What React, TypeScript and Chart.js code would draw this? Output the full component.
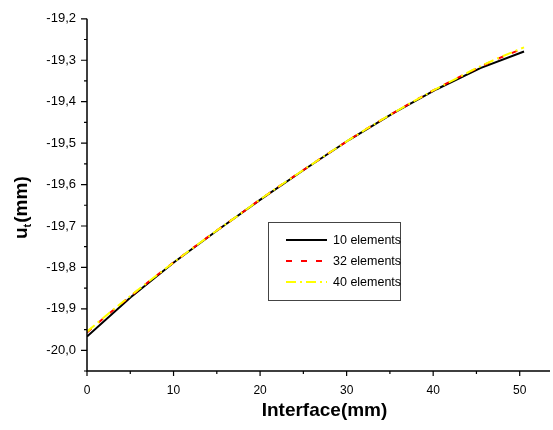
import React, { useEffect, useRef } from 'react';
import { Chart, registerables } from 'chart.js';
Chart.register(...registerables);

// 10 elements (mesh nodes)
const xBlack = [0, 5.05, 10.1, 15.15, 20.2, 25.25, 30.3, 35.35, 40.4, 45.45, 50.5];
const yBlack = [-19.967, -19.872, -19.787, -19.709, -19.634, -19.562, -19.492, -19.428, -19.37, -19.319, -19.279];

// 32 / 40 elements
const xFine = [0, 2.5, 5, 7.5, 10, 12.5, 15, 17.5, 20, 22.5, 25, 27.5, 30, 32.5, 35, 37.5, 40, 42.5, 45, 47.5, 50, 50.5];
const yRed = [-19.957, -19.912, -19.87, -19.828, -19.788, -19.749, -19.711, -19.674, -19.636, -19.6, -19.565, -19.53, -19.496, -19.463, -19.432, -19.402, -19.373, -19.346, -19.32, -19.296, -19.275, -19.271];
const yYellow = [-19.955, -19.911, -19.869, -19.828, -19.788, -19.749, -19.711, -19.674, -19.636, -19.6, -19.565, -19.53, -19.496, -19.463, -19.432, -19.402, -19.373, -19.346, -19.319, -19.295, -19.273, -19.269];

const seriesLabels = ['10 elements', '32 elements', '40 elements'];

const xMajorTicks = [0, 10, 20, 30, 40, 50];
const xMinorTicks = [5, 15, 25, 35, 45];
const yMajorTicks = [-20.0, -19.9, -19.8, -19.7, -19.6, -19.5, -19.4, -19.3, -19.2];
const yMinorTicks = [-20.05, -19.95, -19.85, -19.75, -19.65, -19.55, -19.45, -19.35, -19.25];

const xTitle = 'Interface(mm)';
const yTitleMain = 'u';
const yTitleSub = 't';
const yTitleRest = '(mm)';

const FONT = '"Liberation Sans", Arial, sans-serif';

const toPts = (xs: number[], ys: number[]) => xs.map((x, i) => ({ x, y: ys[i] }));

const decorPlugin = {
  id: 'decor',
  afterDatasetsDraw(chart: any) {
    const ctx = chart.ctx;
    const xs = chart.scales.x;
    const ys = chart.scales.y;
    const area = chart.chartArea;
    ctx.save();
    ctx.strokeStyle = '#000';
    ctx.lineWidth = 1.5;
    // axes
    ctx.beginPath();
    ctx.moveTo(area.left, area.top);
    ctx.lineTo(area.left, area.bottom);
    ctx.lineTo(area.right, area.bottom);
    ctx.stroke();
    ctx.lineWidth = 1.2;
    ctx.beginPath();
    yMajorTicks.forEach((v) => {
      const p = ys.getPixelForValue(v);
      ctx.moveTo(area.left, p);
      ctx.lineTo(area.left - 6, p);
    });
    yMinorTicks.forEach((v) => {
      const p = ys.getPixelForValue(v);
      ctx.moveTo(area.left, p);
      ctx.lineTo(area.left - 3, p);
    });
    xMajorTicks.forEach((v) => {
      const p = xs.getPixelForValue(v);
      ctx.moveTo(p, area.bottom);
      ctx.lineTo(p, area.bottom + 5);
    });
    xMinorTicks.forEach((v) => {
      const p = xs.getPixelForValue(v);
      ctx.moveTo(p, area.bottom);
      ctx.lineTo(p, area.bottom + 3);
    });
    ctx.stroke();

    // x title
    ctx.fillStyle = '#000';
    ctx.font = 'bold 19px ' + FONT;
    ctx.textAlign = 'center';
    ctx.textBaseline = 'alphabetic';
    ctx.fillText(xTitle, 324.5, 416);

    // y title
    ctx.save();
    ctx.translate(27, 239);
    ctx.rotate(-Math.PI / 2);
    ctx.textAlign = 'left';
    ctx.font = 'bold 19px ' + FONT;
    ctx.fillText(yTitleMain, 0, 0);
    const w1 = ctx.measureText(yTitleMain).width;
    ctx.font = 'bold 11px ' + FONT;
    ctx.fillText(yTitleSub, w1, 4);
    const w2 = ctx.measureText(yTitleSub).width;
    ctx.font = 'bold 19px ' + FONT;
    ctx.fillText(yTitleRest, w1 + w2 + 1, 0);
    ctx.restore();

    // legend
    const bx = 268.5, by = 222.5, bw = 132, bh = 78;
    ctx.fillStyle = '#fff';
    ctx.fillRect(bx, by, bw, bh);
    ctx.strokeStyle = '#444';
    ctx.lineWidth = 1;
    ctx.strokeRect(bx, by, bw, bh);
    const rows = [240, 261, 282];
    chart.data.datasets.forEach((ds: any, i: number) => {
      ctx.save();
      ctx.strokeStyle = ds.borderColor;
      ctx.lineWidth = 2;
      ctx.setLineDash(ds.borderDash || []);
      ctx.beginPath();
      ctx.moveTo(286, rows[i]);
      ctx.lineTo(327, rows[i]);
      ctx.stroke();
      ctx.restore();
      ctx.fillStyle = '#000';
      ctx.font = '12.5px ' + FONT;
      ctx.textAlign = 'left';
      ctx.textBaseline = 'middle';
      ctx.fillText(ds.label, 333, rows[i] + 1);
    });
    ctx.restore();
  },
};

export default function App() {
  const ref = useRef<HTMLCanvasElement>(null);
  useEffect(() => {
    if (!ref.current) return;
    const chart = new Chart(ref.current, {
      type: 'line',
      data: {
        datasets: [
          {
            label: seriesLabels[0],
            data: toPts(xBlack, yBlack),
            borderColor: '#000000',
            borderWidth: 2,
            pointRadius: 0,
            tension: 0,
            order: 3,
          },
          {
            label: seriesLabels[1],
            data: toPts(xFine, yRed),
            borderColor: '#ff0000',
            borderWidth: 2,
            borderDash: [6, 9],
            pointRadius: 0,
            tension: 0,
            order: 2,
          },
          {
            label: seriesLabels[2],
            data: toPts(xFine, yYellow),
            borderColor: '#ffff00',
            borderWidth: 2,
            borderDash: [10, 4, 2, 4],
            pointRadius: 0,
            tension: 0,
            order: 1,
          },
        ],
      },
      options: {
        responsive: false,
        animation: false,
        layout: { padding: { top: 17, right: 3, left: 0, bottom: 0 } },
        plugins: { legend: { display: false }, tooltip: { enabled: false } },
        scales: {
          x: {
            type: 'linear',
            min: 0,
            max: 53.5,
            grid: { display: false, drawTicks: false },
            border: { display: false },
            afterBuildTicks: (s: any) => {
              s.ticks = xMajorTicks.map((v) => ({ value: v }));
            },
            afterFit: (s: any) => {
              s.height = 59;
            },
            ticks: {
              autoSkip: false,
              maxRotation: 0,
              padding: 12,
              color: '#000',
              font: { family: FONT, size: 12 },
              callback: (v: any) => String(v),
            },
          },
          y: {
            type: 'linear',
            min: -20.05,
            max: -19.2,
            grid: { display: false, drawTicks: false },
            border: { display: false },
            afterBuildTicks: (s: any) => {
              s.ticks = yMajorTicks.map((v) => ({ value: v }));
            },
            afterFit: (s: any) => {
              s.width = 87;
            },
            ticks: {
              autoSkip: false,
              padding: 11,
              color: '#000',
              font: { family: FONT, size: 13 },
              callback: (v: any) => Number(v).toFixed(1).replace('.', ','),
            },
          },
        },
      } as any,
      plugins: [decorPlugin],
    });
    return () => chart.destroy();
  }, []);
  return (
    <div style={{ position: 'fixed', left: 0, top: 0, width: 553, height: 430, background: '#fff' }}>
      <canvas ref={ref} width={553} height={430} style={{ width: 553, height: 430, display: 'block' }} />
    </div>
  );
}
